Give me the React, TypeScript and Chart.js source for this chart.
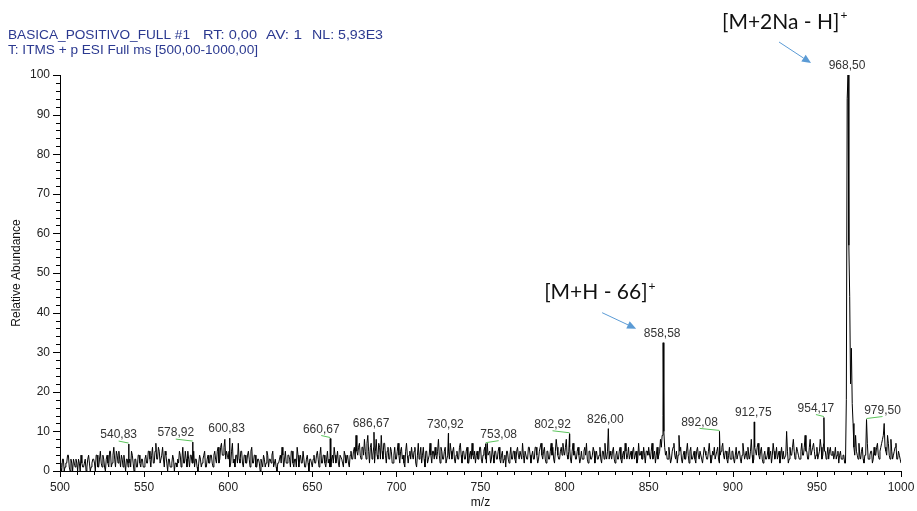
import React, { useEffect, useRef } from "react";
import { Chart, registerables } from "chart.js";

Chart.register(...registerables);

// Spectrum noise intensities at whole m/z, 500..1000
const noiseStart = 500;
const noise = [
  2,0,3,1,2,4,0,2,3,1,
  2,3,0,2,1,3,1,4,0,2,
  3,0,4,1,5,1,3,0,4,1,
  5,2,6,1,4,5,1,3,4,0,
  3,2,1,4,0,3,1,4,1,3,
  1,4,2,5,1,6,2,7,3,5,
  2,6,1,4,0,3,1,4,0,2,
  3,5,1,6,2,3,5,1,4,2,
  1,3,0,4,1,3,5,1,4,2,
  4,1,5,2,6,3,7,4,8,5,
  3,1,5,2,1,4,7,2,5,1,
  4,2,5,1,6,2,4,1,3,0,
  2,4,1,5,1,3,4,1,3,0,
  2,4,6,1,5,2,4,1,5,1,
  3,6,1,4,2,5,1,4,0,3,
  1,4,2,5,1,6,2,4,1,5,
  3,1,4,6,2,5,1,4,2,5,
  2,4,1,5,3,6,9,4,7,3,
  6,8,3,9,2,7,4,2,8,3,
  6,9,3,7,2,6,3,5,2,6,
  3,7,2,6,4,1,7,2,5,6,
  3,6,1,7,4,2,6,1,5,3,
  7,2,5,6,3,8,2,5,3,6,
  2,5,7,3,6,2,5,3,7,2,
  5,3,6,2,5,7,3,2,5,3,
  6,2,5,3,7,4,2,6,2,5,
  3,6,2,5,3,1,5,2,6,3,
  5,2,6,3,5,7,2,5,3,6,
  2,5,3,6,2,5,7,3,6,2,
  5,3,7,6,2,8,4,3,6,7,
  4,8,3,6,2,7,5,3,6,2,
  5,3,6,7,2,5,3,6,2,5,
  3,6,2,5,7,3,1,5,3,6,
  2,5,3,6,2,5,7,3,6,4,
  3,6,4,2,7,4,3,6,2,5,
  6,3,7,4,2,6,4,8,9,10,
  4,3,6,2,5,7,3,2,9,6,
  2,5,3,7,2,6,3,5,2,6,
  3,5,2,6,4,3,7,2,5,6,
  3,6,2,5,7,3,5,2,6,3,
  5,2,6,3,5,2,7,3,5,6,
  3,8,2,6,4,7,3,6,2,5,
  3,6,4,2,7,3,6,4,2,6,
  5,3,10,2,6,4,8,3,6,4,
  3,7,4,9,5,3,8,4,7,3,
  6,4,8,3,7,5,4,3,6,4,
  3,6,4,2,5,3,4,2,2,2,
  2,2,2,9,4,7,3,6,2,4,
  7,3,5,2,6,4,7,3,6,8,
  12,5,9,4,8,3,5,7,3,4,
  2,
];

// Spectrum noise intensities at half m/z, 500.5..999.5
const noiseHalfStart = 500.5;
const noiseHalf = [
  1,3,0,2,4,1,3,0,2,3,
  0,2,4,1,2,0,3,2,1,3,
  2,4,1,3,2,4,1,3,2,5,
  1,4,3,5,2,3,4,1,2,3,
  1,3,5,2,3,1,4,2,3,1,
  3,2,5,3,4,2,5,3,6,2,
  4,3,5,2,3,1,2,3,2,1,
  2,4,3,2,5,1,3,4,2,5,
  3,1,2,3,2,4,1,3,2,4,
  2,4,3,5,2,6,4,6,3,4,
  5,2,7,3,4,2,3,5,2,4,
  2,4,3,5,2,4,1,3,2,3,
  1,3,2,4,3,2,5,2,1,2,
  3,2,4,3,2,4,3,5,2,3,
  1,4,3,2,5,1,3,2,3,2,
  3,2,4,3,4,2,4,2,3,2,
  1,3,2,4,3,2,4,3,1,4,
  3,2,4,3,5,3,5,6,4,6,
  4,5,7,5,6,3,6,5,4,7,
  3,5,7,4,5,3,6,2,4,3,
  5,4,5,3,2,5,4,4,3,4,
  5,2,4,3,6,4,3,5,2,4,
  4,5,3,4,5,4,6,3,5,2,
  4,3,5,5,3,4,3,6,4,5,
  3,5,2,4,3,4,5,4,3,6,
  3,4,6,2,4,5,3,4,5,3,
  5,3,4,2,4,5,3,4,3,5,
  3,5,4,5,3,4,5,3,6,4,
  4,3,6,4,3,6,4,5,3,5,
  3,5,4,3,5,6,3,5,4,5,
  6,4,5,3,5,4,3,5,4,3,
  3,5,4,3,5,3,4,5,4,3,
  4,3,5,3,4,5,3,4,5,3,
  4,3,5,3,4,3,5,4,3,5,
  5,3,5,3,4,5,3,4,5,4,
  4,5,3,5,4,3,5,6,14,6,
  5,3,4,3,6,4,5,4,5,3,
  4,3,5,4,5,3,4,3,5,4,
  5,3,4,5,3,5,4,3,4,3,
  5,3,4,6,4,5,3,4,3,5,
  3,4,3,5,3,4,5,4,3,4,
  5,4,3,5,6,4,5,3,4,3,
  4,3,5,4,5,4,3,5,4,3,
  3,4,5,3,4,6,5,4,5,3,
  5,4,6,5,3,6,4,6,5,4,
  3,5,6,4,5,3,6,5,4,5,
  4,3,5,4,3,4,2,2,2,2,
  2,2,4,5,3,4,5,3,4,5,
  3,4,5,3,4,6,4,5,7,9,
  6,4,7,3,5,4,6,3,5,3,
];

// Base-peak cluster around m/z 968
const clusterMz = [967, 967.5, 968, 969, 969.5, 970, 970.5, 971, 971.5, 972];
const clusterInt = [2, 18, 94, 57, 44, 22, 31, 17, 12, 6];

// Labelled peaks
const peakMz = [540.83, 578.92, 600.83, 660.67, 686.67, 730.92, 753.08, 802.92, 826.0, 858.58, 892.08, 912.75, 954.17, 968.5, 979.5];
const peakInt = [6.8, 7.3, 8.3, 8.2, 9.8, 9.5, 6.9, 9.4, 10.7, 32.4, 10.0, 12.4, 13.5, 100, 13.0];
const peakLabels = ["540,83", "578,92", "600,83", "660,67", "686,67", "730,92", "753,08", "802,92", "826,00", "858,58", "892,08", "912,75", "954,17", "968,50", "979,50"];

const headerLine1 = ["BASICA_POSITIVO_FULL #1", "RT: 0,00", "AV: 1", "NL: 5,93E3"];
const headerLine2 = "T: ITMS + p ESI Full ms [500,00-1000,00]";
const xTitle = "m/z";
const yTitle = "Relative Abundance";
const annotations = [
  { peak: 858.58, text: "[M+H - 66]" },
  { peak: 968.5, text: "[M+2Na - H]" },
];

export default function App() {
  const ref = useRef<HTMLCanvasElement>(null);

  useEffect(() => {
    document.body.style.margin = "0";
    const canvas = ref.current!;
    const pts = new Map<number, number>();
    noise.forEach((v, i) => pts.set(noiseStart + i, v));
    noiseHalf.forEach((v, i) => pts.set(noiseHalfStart + i, v));
    clusterMz.forEach((m, i) => pts.set(m, clusterInt[i]));
    peakMz.forEach((m, i) => pts.set(m, peakInt[i]));
    const data = [...pts.entries()].sort((a, b) => a[0] - b[0]).map(([x, y]) => ({ x, y }));

    // label layout (style only)
    const labelDx = [-10, -17, -3, -9, -3, -3, 13, -17, -3, -1, -20, -1, -8, -1, 16];
    const annLayout = [
      { tx: -119, ty: -50, ax0: -61, ay0: -30, ax1: -27, ay1: -14 },
      { tx: -126, ty: -53, ax0: -69, ay0: -33, ax1: -37, ay1: -12 },
    ];

    const overlay = {
      id: "overlay",
      afterDraw(chart: any) {
        const ctx = chart.ctx as CanvasRenderingContext2D;
        const xs = chart.scales.x;
        const ys = chart.scales.y;
        const ca = chart.chartArea;
        ctx.save();
        // minor/major ticks
        ctx.strokeStyle = "#000";
        ctx.lineWidth = 1;
        ctx.beginPath();
        for (let v = 500; v <= 1000; v += 10) {
          const px = Math.round(xs.getPixelForValue(v)) + 0.5;
          const len = v % 50 === 0 ? 6 : 4;
          ctx.moveTo(px, ca.bottom);
          ctx.lineTo(px, ca.bottom + len);
        }
        for (let v = 0; v <= 100; v += 2) {
          const py = Math.round(ys.getPixelForValue(v)) + 0.5;
          const len = v % 10 === 0 ? 7 : 4;
          ctx.moveTo(ca.left - len, py);
          ctx.lineTo(ca.left, py);
        }
        ctx.stroke();

        // axis titles
        ctx.fillStyle = "#111";
        ctx.font = "12px 'Liberation Sans', Arial, sans-serif";
        ctx.textAlign = "center";
        ctx.textBaseline = "middle";
        ctx.fillText(xTitle, (ca.left + ca.right) / 2, 503);
        ctx.save();
        ctx.translate(17, (ca.top + ca.bottom) / 2);
        ctx.rotate(-Math.PI / 2);
        ctx.fillText(yTitle, 0, 0);
        ctx.restore();

        // header
        ctx.fillStyle = "#2b3990";
        ctx.font = "13px 'Liberation Sans', Arial, sans-serif";
        ctx.textAlign = "left";
        const h1x = [8, 203, 266, 312];
        const h1w = [182, 54, 36, 71];
        headerLine1.forEach((t, i) => {
          const w = ctx.measureText(t).width;
          ctx.save();
          ctx.translate(h1x[i], 35);
          ctx.scale(h1w[i] / w, 1);
          ctx.fillText(t, 0, 0);
          ctx.restore();
        });
        {
          const w = ctx.measureText(headerLine2).width;
          ctx.save();
          ctx.translate(8, 50.5);
          ctx.scale(250 / w, 1);
          ctx.fillText(headerLine2, 0, 0);
          ctx.restore();
        }

        // peak labels
        ctx.font = "12px 'Liberation Sans', Arial, sans-serif";
        ctx.textAlign = "center";
        peakMz.forEach((m, i) => {
          const px = xs.getPixelForValue(m);
          const py = ys.getPixelForValue(peakInt[i]);
          const lx = px + labelDx[i];
          const ly = py - 9;
          if (Math.abs(labelDx[i]) > 5) {
            ctx.strokeStyle = "#5cc45c";
            ctx.beginPath();
            ctx.moveTo(lx, ly + 6);
            ctx.lineTo(px, py - 1);
            ctx.stroke();
          }
          ctx.fillStyle = "#333";
          ctx.fillText(peakLabels[i], lx, ly);
        });

        // annotations with arrows
        annotations.forEach((a, i) => {
          const L = annLayout[i];
          const idx = peakMz.indexOf(a.peak);
          const px = xs.getPixelForValue(a.peak);
          const py = ys.getPixelForValue(peakInt[idx]);
          ctx.fillStyle = "#111";
          ctx.font = "21px Lato, 'Open Sans', sans-serif";
          ctx.textAlign = "left";
          ctx.textBaseline = "middle";
          const tx = px + L.tx;
          const ty = py + L.ty;
          ctx.fillText(a.text, tx, ty);
          const w = ctx.measureText(a.text).width;
          ctx.font = "12px Lato, 'Open Sans', sans-serif";
          ctx.fillText("+", tx + w + 1, ty - 7);
          // arrow
          const x0 = px + L.ax0, y0 = py + L.ay0, x1 = px + L.ax1, y1 = py + L.ay1;
          const ang = Math.atan2(y1 - y0, x1 - x0);
          const hl = 9, hw = 4;
          const bx = x1 - hl * Math.cos(ang), by = y1 - hl * Math.sin(ang);
          ctx.strokeStyle = "#5b9bd5";
          ctx.fillStyle = "#5b9bd5";
          ctx.lineWidth = 1;
          ctx.beginPath();
          ctx.moveTo(x0, y0);
          ctx.lineTo(bx, by);
          ctx.stroke();
          ctx.beginPath();
          ctx.moveTo(x1, y1);
          ctx.lineTo(bx + hw * Math.sin(ang), by - hw * Math.cos(ang));
          ctx.lineTo(bx - hw * Math.sin(ang), by + hw * Math.cos(ang));
          ctx.closePath();
          ctx.fill();
        });
        ctx.restore();
      },
    };

    const chart = new Chart(canvas, {
      type: "line",
      data: {
        datasets: [
          {
            data,
            borderColor: "#000",
            borderWidth: 1,
            pointRadius: 0,
            tension: 0,
            fill: false,
          },
        ],
      },
      options: {
        animation: false,
        responsive: true,
        maintainAspectRatio: false,
        parsing: false,
        layout: { padding: { top: 75, right: 16, left: 7, bottom: 0 } },
        plugins: { legend: { display: false }, tooltip: { enabled: false } },
        scales: {
          x: {
            type: "linear",
            min: 500,
            max: 1000,
            afterFit(s: any) {
              s.height = 40;
              s.paddingLeft = 0;
              s.paddingRight = 0;
            },
            ticks: {
              stepSize: 50,
              padding: 9,
              color: "#222",
              font: { family: "'Liberation Sans', Arial, sans-serif", size: 12 },
              maxRotation: 0,
              callback: (v: any) => String(v),
            },
            grid: { display: false, drawTicks: false },
            border: { display: true, color: "#000", width: 1 },
          },
          y: {
            type: "linear",
            min: 0,
            max: 100,
            afterFit(s: any) {
              s.width = 53;
              s.paddingTop = 0;
              s.paddingBottom = 0;
            },
            ticks: {
              stepSize: 10,
              padding: 10,
              color: "#222",
              font: { family: "'Liberation Sans', Arial, sans-serif", size: 12 },
              callback: (v: any) => String(v),
            },
            grid: { display: false, drawTicks: false },
            border: { display: true, color: "#000", width: 1 },
          },
        },
      } as any,
      plugins: [overlay],
    });
    return () => chart.destroy();
  }, []);

  return (
    <div style={{ position: "fixed", left: 0, top: 0, width: 917, height: 511, background: "#fff" }}>
      <canvas ref={ref} />
    </div>
  );
}
